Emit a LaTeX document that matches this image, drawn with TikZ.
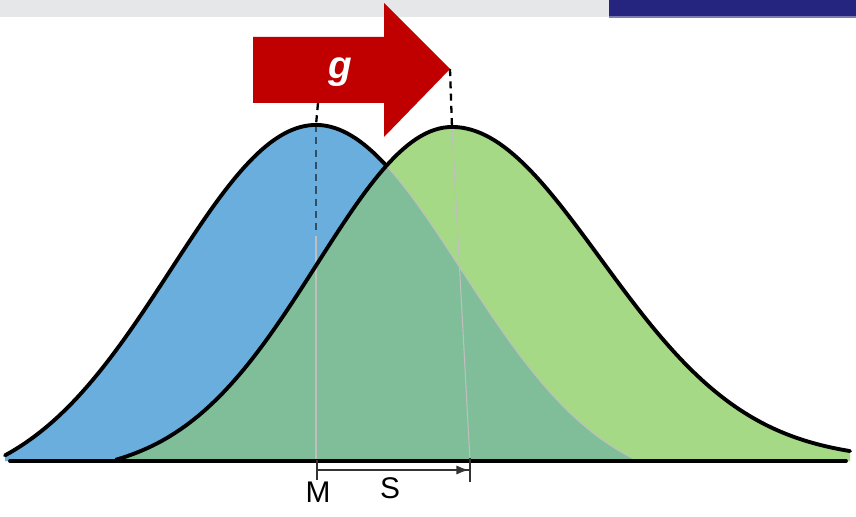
\documentclass[tikz,border=0pt]{standalone}
\usepackage{fontspec}
\setmainfont{Liberation Sans}
\usetikzlibrary{arrows.meta,calc}
\definecolor{topbar}{HTML}{E6E7E9}
\definecolor{navy}{HTML}{25247F}
\definecolor{shiftred}{HTML}{C00000}
\definecolor{oldcurve}{HTML}{6AAEDE}
\definecolor{newcurve}{HTML}{A6D986}
\definecolor{overlap}{HTML}{80BE9A}
\begin{document}
\begin{tikzpicture}[x=0.02cm,y=-0.02cm,
    outline/.style={line width=2.2pt,black,line join=round,line cap=round},
    faint/.style={black!25,line width=0.6pt},
    peakline/.style={dashed,dash pattern=on 4pt off 3pt,line width=1.3pt},
    lbl/.style={inner sep=0pt,font=\fontsize{17}{17}\selectfont}
  ]
  \useasboundingbox (0,0) rectangle (856,517);
  % header strip
  \fill[topbar] (0,0) rectangle (612,17);
  \fill[navy] (609,0) rectangle (856,17);
  \draw[navy!60,line width=0.6pt] (609,17) -- (856,17);
  % the two curves (heights in px above the base line)
  \def\oldh#1{(335*(exp(-(((#1)-316)/145)^2/2)-0.0876)/0.9124)}
  \def\newh#1{((#1)<452 ? 333*(exp(-(((#1)-452)/135)^2/2)-0.0443)/0.9557 : 333*exp(-(((#1)-452)/148)^2/2))}
  \def\oldcurve{plot[domain=5:632,samples=140] (\x,{460-\oldh{\x}})}
  \def\newcurve{plot[domain=116:850,samples=160] (\x,{460-\newh{\x}})}
  \coordinate (oldpeak) at (316,125);
  \coordinate (newpeak) at (452,127);
  \coordinate (Mfoot) at (316,461);
  \coordinate (Sfoot) at (470,461);
  \fill[oldcurve] \oldcurve -- (632,461) -- (5,461) -- cycle;
  \draw[peakline,oldcurve!45!black] (oldpeak) -- (Mfoot);
  \fill[newcurve] \newcurve -- (850,461) -- (116,461) -- cycle;
  \begin{scope}
    \clip \oldcurve -- (632,461) -- (5,461) -- cycle;
    \fill[overlap] \newcurve -- (850,461) -- (116,461) -- cycle;
  \end{scope}
  \draw[faint] plot[domain=386:632,samples=60] (\x,{460-\oldh{\x}});
  \draw[faint] (316,236) -- (Mfoot);
  \draw[faint] (newpeak) -- (Sfoot);
  \draw[outline] \newcurve;
  \draw[outline] plot[domain=5:386,samples=90] (\x,{460-\oldh{\x}});
  \draw[outline] (10,461) -- (846,461);
  % shift arrow
  \fill[shiftred] (253,37) -- (384,37) -- (384,3) -- (450,69) -- (384,137)
    -- (384,103) -- (253,103) -- cycle;
  \coordinate (tip) at (450,69);
  \coordinate (tail) at (318,103);
  \node[white,font=\fontsize{22}{22}\selectfont\bfseries\itshape] (g) at (340,72) {g};
  \draw[peakline,black] (tip) -- (newpeak);
  \draw[peakline,black] (tail) -- (oldpeak);
  % mean and shift
  \coordinate (dimA) at (316,470);
  \coordinate (dimB) at (471,470);
  \draw[black!80,line width=1.2pt,{Bar[width=4mm]}-{Latex[length=2.5mm]Bar[width=5mm]}] (dimA) -- (dimB);
  \node[lbl] (M) at (318,492) {M};
  \node[lbl] (S) at (390,488) {S};
\end{tikzpicture}
\end{document}
